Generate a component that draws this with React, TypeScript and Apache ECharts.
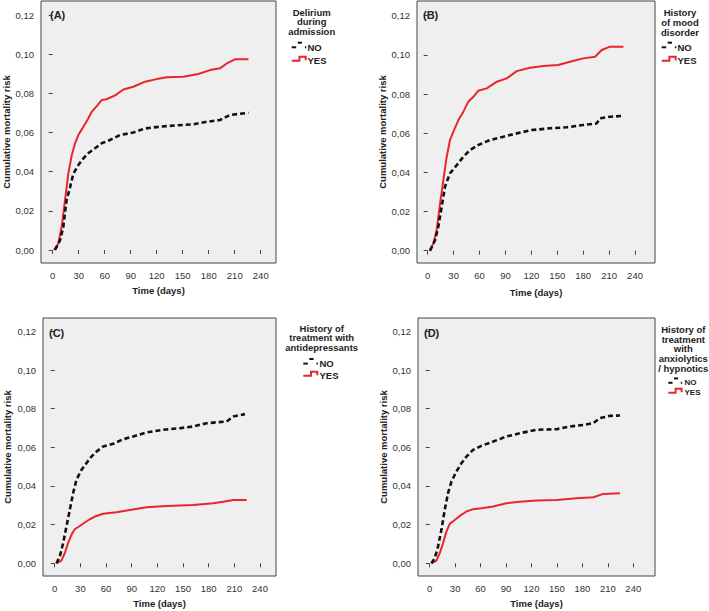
import React, { useEffect, useRef } from "react";
import * as echarts from "echarts";

const xTicks = [0, 30, 60, 90, 120, 150, 180, 210, 240];
const yTicks = [0, 0.02, 0.04, 0.06, 0.08, 0.1, 0.12];
const panelLabels = ["(A)", "(B)", "(C)", "(D)"];
const legendTitles = [
  ["Delirium", "during", "admission"],
  ["History", "of mood", "disorder"],
  ["History of", "treatment with", "antidepressants"],
  ["History of", "treatment", "with", "anxiolytics", "/ hypnotics"],
];
const groupNames = ["NO", "YES"];
const xTitle = "Time (days)";
const yTitle = "Cumulative mortality risk";

// Panel A: delirium during admission
const aNoTime = [2.7, 8.5, 12.3, 16, 20, 23.8, 29.6, 35.4, 41, 48.8, 56.5, 66, 77.7, 93, 106.5, 124, 143, 162, 177.7, 193, 204.6, 225.8];
const aNoRisk = [0, 0.005, 0.012, 0.0255, 0.032, 0.039, 0.0434, 0.0468, 0.0494, 0.052, 0.0545, 0.0562, 0.0587, 0.06, 0.0621, 0.063, 0.0637, 0.0642, 0.0655, 0.0664, 0.069, 0.0701];
const aYesTime = [1.5, 6.5, 10.4, 14.2, 18, 22, 25.8, 29.6, 35.4, 41, 45, 50.8, 56.5, 62, 72, 81.5, 93, 106.5, 120, 131.5, 150.8, 168, 181.5, 193, 200.8, 210.4, 225.8];
const aYesRisk = [0, 0.0034, 0.012, 0.0255, 0.039, 0.0485, 0.0545, 0.0587, 0.063, 0.0672, 0.0706, 0.0735, 0.0766, 0.077, 0.079, 0.082, 0.0834, 0.086, 0.0873, 0.0882, 0.0885, 0.0899, 0.0919, 0.0928, 0.0953, 0.0974, 0.0974];

// Panel B: history of mood disorder
const bNoTime = [2.7, 8.5, 12.3, 16.2, 20, 25.8, 33.6, 41.3, 49, 58.6, 72, 87.6, 103, 120.4, 141.6, 160.9, 180, 195.6, 199.5, 211, 224.5];
const bNoRisk = [0, 0.0054, 0.0123, 0.0225, 0.0327, 0.0395, 0.0437, 0.048, 0.0514, 0.054, 0.0565, 0.0582, 0.0599, 0.0616, 0.0625, 0.063, 0.0642, 0.065, 0.0676, 0.0684, 0.0688];
const bYesTime = [2, 6.6, 10.4, 14.3, 18.1, 22, 25.8, 29.7, 35.5, 41.3, 47, 52.9, 58.6, 68.3, 80, 91.4, 103, 118.4, 134, 151, 164.7, 180, 193.7, 201.4, 211, 226.5];
const bYesRisk = [0, 0.0037, 0.0106, 0.0242, 0.036, 0.048, 0.0565, 0.0608, 0.0667, 0.071, 0.0761, 0.0786, 0.0817, 0.0829, 0.0863, 0.088, 0.0917, 0.0934, 0.0943, 0.0948, 0.0965, 0.0982, 0.099, 0.1025, 0.1042, 0.1042];

// Panel C: history of treatment with antidepressants
const cNoTime = [2, 5.9, 9.8, 13.7, 17.6, 21.5, 25.4, 31.2, 37, 42.9, 48.8, 56.6, 68.3, 80, 91.7, 107.3, 126.8, 146.3, 162, 177.6, 201, 208.8, 222.4];
const cNoRisk = [0, 0.0035, 0.0104, 0.019, 0.0276, 0.0363, 0.0432, 0.0483, 0.0518, 0.0552, 0.0578, 0.0604, 0.0618, 0.0642, 0.0656, 0.0677, 0.0691, 0.0699, 0.0708, 0.0725, 0.0734, 0.076, 0.0772];
const cYesTime = [2, 7.8, 11.7, 15.6, 19.5, 23.4, 29.3, 35.1, 41, 48.8, 56.6, 72.2, 87.8, 107.3, 130.7, 162, 185.4, 197, 208.8, 224.4];
const cYesRisk = [0, 0.0014, 0.0052, 0.0104, 0.0147, 0.0176, 0.0193, 0.0211, 0.0228, 0.0245, 0.0256, 0.0264, 0.0276, 0.029, 0.0297, 0.0302, 0.0311, 0.0319, 0.0328, 0.0328];

// Panel D: history of treatment with anxiolytics / hypnotics
const dNoTime = [2, 5.9, 9.8, 13.8, 17.7, 21.6, 25.6, 31.5, 37.4, 43.3, 51.1, 61, 74.8, 90.5, 106.2, 126, 149.5, 165.2, 181, 192.8, 200.7, 212.5, 224.3];
const dNoRisk = [0, 0.0026, 0.0086, 0.0173, 0.0276, 0.0363, 0.0423, 0.0475, 0.0518, 0.0552, 0.0587, 0.0608, 0.063, 0.0656, 0.0673, 0.0691, 0.0694, 0.0708, 0.0716, 0.0725, 0.0751, 0.0763, 0.0765];
const dYesTime = [2, 7.9, 11.8, 15.7, 19.7, 23.6, 29.5, 35.4, 43.3, 51.1, 61, 74.8, 90.5, 106.2, 126, 149.5, 173, 192.8, 204.6, 224.3];
const dYesRisk = [0, 0.0014, 0.0052, 0.0104, 0.0164, 0.0204, 0.0224, 0.0245, 0.0268, 0.028, 0.0285, 0.0294, 0.0311, 0.0319, 0.0325, 0.0328, 0.0337, 0.0342, 0.0359, 0.0363];

const noSeries = [[aNoTime, aNoRisk], [bNoTime, bNoRisk], [cNoTime, cNoRisk], [dNoTime, dNoRisk]];
const yesSeries = [[aYesTime, aYesRisk], [bYesTime, bYesRisk], [cYesTime, cYesRisk], [dYesTime, dYesRisk]];

const FONT = '"Liberation Sans", Arial, sans-serif';
const RED = "#e8262d";
const BLACK = "#111111";

const grids = [
  { left: 41, top: 1, width: 235, height: 262 },
  { left: 417, top: 1, width: 238, height: 262 },
  { left: 43, top: 318, width: 233, height: 258 },
  { left: 418, top: 318, width: 237, height: 258 },
];
const xRanges = [[-13.5, 257.6], [-12.4, 263.1], [-13.7, 258.7], [-13.8, 265.6]];
const yRanges = [[-0.00664, 0.1272], [-0.00628, 0.1275], [-0.00658, 0.12694], [-0.00658, 0.12694]];
const yNameGaps = [28, 30, 31, 30];
const xNameGaps = [22, 24, 22, 22];
const labelPos = [[50, 15], [423, 15], [49, 333], [424, 333]];

const legendLayout = [
  { cx: 311.7, ty: 12, lh: 9.7, noY: 47, yesY: 60, sx: 291.7, tx: 307.5, s: 1, fs: 9.5 },
  { cx: 680, ty: 12, lh: 10, noY: 47, yesY: 60, sx: 661.7, tx: 677.5, s: 1, fs: 9.5 },
  { cx: 321.7, ty: 328, lh: 9.7, noY: 363.3, yesY: 375, sx: 303.3, tx: 319.5, s: 1, fs: 9.5 },
  { cx: 683.3, ty: 329.5, lh: 9.7, noY: 382.5, yesY: 392, sx: 668.3, tx: 684.5, s: 0.95, fs: 8 },
];

function legendGraphics(i: number) {
  const L = legendLayout[i];
  const els: any[] = [];
  els.push({
    type: "text",
    x: L.cx,
    y: L.ty - L.lh / 2,
    style: {
      text: legendTitles[i].join("\n"),
      font: `bold 9.5px ${FONT}`,
      lineHeight: L.lh,
      fill: "#222",
      align: "center",
      verticalAlign: "top",
    },
  });
  const s = L.s;
  const x0 = L.sx;
  const ny = L.noY;
  els.push({ type: "line", shape: { x1: x0, y1: ny + 0.3, x2: x0 + 4.5 * s, y2: ny + 0.3 }, style: { stroke: BLACK, lineWidth: 2 } });
  els.push({ type: "line", shape: { x1: x0 + 6 * s, y1: ny - 4.3 * s, x2: x0 + 10.3 * s, y2: ny - 4.3 * s }, style: { stroke: BLACK, lineWidth: 2 } });
  els.push({ type: "line", shape: { x1: x0 + 13.2 * s, y1: ny + 0.3, x2: x0 + 14.6 * s, y2: ny + 0.3 }, style: { stroke: BLACK, lineWidth: 2 } });
  const yy = L.yesY;
  els.push({
    type: "polyline",
    shape: { points: [[x0, yy + 0.8], [x0 + 7.7 * s, yy + 0.8], [x0 + 7.7 * s, yy - 3.3 * s], [x0 + 14 * s, yy - 3.3 * s], [x0 + 14 * s, yy + 0.2]] },
    style: { stroke: RED, lineWidth: 2, fill: null },
  });
  els.push({ type: "text", x: L.tx, y: ny, style: { text: groupNames[0], font: `bold ${L.fs}px ${FONT}`, fill: "#222", align: "left", verticalAlign: "middle" } });
  els.push({ type: "text", x: L.tx, y: yy, style: { text: groupNames[1], font: `bold ${L.fs}px ${FONT}`, fill: "#222", align: "left", verticalAlign: "middle" } });
  return els;
}

function zip(t: number[], r: number[]) {
  return t.map((v, k) => [v, r[k]]);
}

export default function App() {
  const ref = useRef<HTMLDivElement>(null);
  useEffect(() => {
    if (!ref.current) return;
    const chart = echarts.init(ref.current, undefined, { renderer: "svg" });
    const xAxis = grids.map((_, i) => ({
      type: "value",
      gridIndex: i,
      min: xRanges[i][0],
      max: xRanges[i][1],
      name: xTitle,
      nameLocation: "middle",
      nameGap: xNameGaps[i],
      nameTextStyle: { fontFamily: FONT, fontWeight: "bold", fontSize: 9.5, color: "#222" },
      axisLine: { show: false },
      axisTick: { show: true, length: 4, customValues: xTicks, lineStyle: { color: "#444", width: 1 } },
      axisLabel: { customValues: xTicks, fontFamily: FONT, fontSize: 9.5, color: "#333", margin: 7, formatter: (v: number) => String(v) },
      splitLine: { show: false },
    }));
    const yAxis = grids.map((_, i) => ({
      type: "value",
      gridIndex: i,
      min: yRanges[i][0],
      max: yRanges[i][1],
      name: yTitle,
      nameLocation: "middle",
      nameGap: yNameGaps[i],
      nameTextStyle: { fontFamily: FONT, fontWeight: "bold", fontSize: 9.5, color: "#222" },
      axisLine: { show: false },
      axisTick: { show: true, length: 4, customValues: yTicks, lineStyle: { color: "#444", width: 1 } },
      axisLabel: {
        customValues: yTicks,
        fontFamily: FONT,
        fontSize: 9.5,
        color: "#333",
        margin: 7,
        formatter: (v: number) => v.toFixed(2).replace(".", ","),
      },
      splitLine: { show: false },
    }));
    const series: any[] = [];
    grids.forEach((_, i) => {
      series.push({
        type: "line",
        name: groupNames[0],
        xAxisIndex: i,
        yAxisIndex: i,
        showSymbol: false,
        data: zip(noSeries[i][0], noSeries[i][1]),
        lineStyle: { color: BLACK, width: 2.6, type: [5, 3] },
        itemStyle: { color: BLACK },
        z: 3,
      });
      series.push({
        type: "line",
        name: groupNames[1],
        xAxisIndex: i,
        yAxisIndex: i,
        showSymbol: false,
        data: zip(yesSeries[i][0], yesSeries[i][1]),
        lineStyle: { color: RED, width: 2 },
        itemStyle: { color: RED },
        z: 2,
      });
    });
    const graphic: any[] = [];
    grids.forEach((_, i) => {
      graphic.push({
        type: "text",
        x: labelPos[i][0],
        y: labelPos[i][1],
        style: { text: panelLabels[i], font: `bold 11px ${FONT}`, fill: "#222", align: "left", verticalAlign: "middle" },
        z: 10,
      });
      graphic.push(...legendGraphics(i));
    });
    chart.setOption({
      animation: false,
      backgroundColor: "#ffffff",
      grid: grids.map((g) => ({ ...g, show: true, backgroundColor: "#efefef", borderColor: "#444", borderWidth: 1, containLabel: false })),
      xAxis,
      yAxis,
      series,
      graphic,
    });
    return () => chart.dispose();
  }, []);
  return <div ref={ref} style={{ position: "absolute", left: 0, top: 0, width: 709, height: 611 }} />;
}
